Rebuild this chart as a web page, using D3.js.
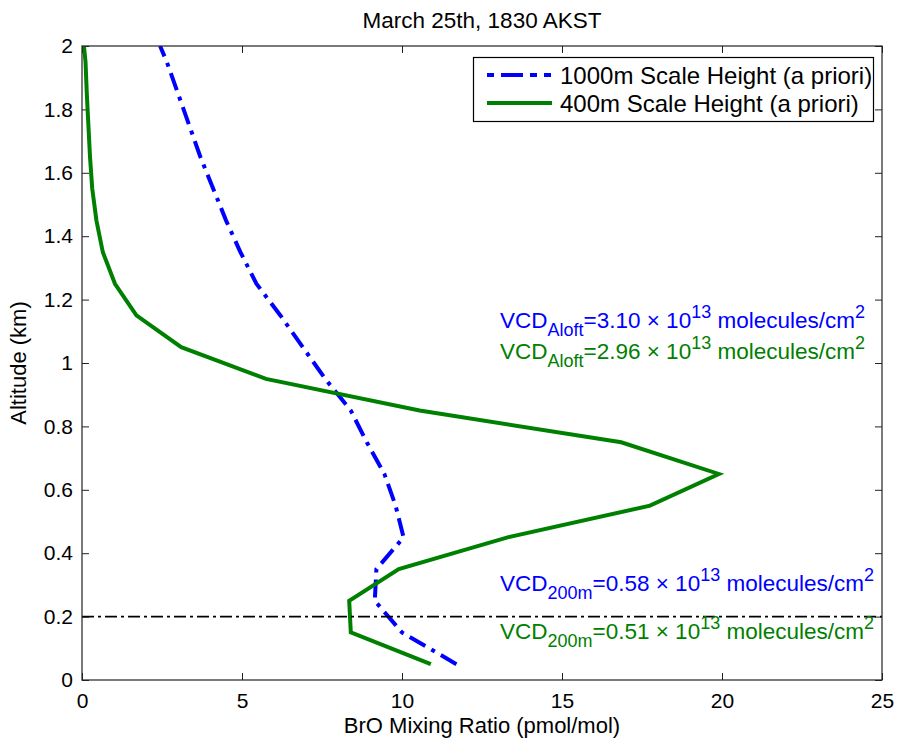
<!DOCTYPE html>
<html><head><meta charset="utf-8">
<script src="https://cdn.jsdelivr.net/npm/d3@7"></script>
<style>body{margin:0;background:#fff}svg{font-family:"Liberation Sans",Arial,sans-serif}</style>
</head><body><svg id="c" width="900" height="740"></svg>
<script>
const altitudes = [0.05,0.15,0.25,0.35,0.45,0.55,0.65,0.75,0.85,0.95,1.05,1.15,1.25,1.35,1.45,1.55,1.65,1.75,1.85,1.95,2.0];
const blue1000 = [11.7,10.0,9.15,9.2,10.05,9.8,9.45,8.9,8.4,7.6,6.9,6.2,5.45,4.95,4.5,4.1,3.7,3.35,3.0,2.65,2.44];
const green400 = [10.9,8.4,8.35,9.9,13.3,17.75,19.9,16.85,10.55,5.75,3.1,1.7,1.03,0.65,0.45,0.32,0.25,0.2,0.15,0.11,0.06];
const xTicks = [0,5,10,15,20,25];
const yTicks = [0,0.2,0.4,0.6,0.8,1,1.2,1.4,1.6,1.8,2];
const seriesNames = ["1000m Scale Height (a priori)","400m Scale Height (a priori)"];
const boundaryAlt = 0.2;

const svg = d3.select("#c");
const L=82,R=882,T=46,B=680;
const x = d3.scaleLinear().domain([0,25]).range([L,R]);
const y = d3.scaleLinear().domain([0,2]).range([B,T]);

svg.append("defs").append("clipPath").attr("id","clip").append("rect")
  .attr("x",L).attr("y",T).attr("width",R-L).attr("height",B-T);

const tl=7;
const styleText = g=>{g.select(".domain").remove();g.selectAll("text").attr("font-size",21).attr("fill","#000").attr("font-family","Liberation Sans, Arial");};
svg.append("g").attr("transform",`translate(0,${B})`)
  .call(d3.axisBottom(x).tickValues(xTicks).tickSize(-tl).tickPadding(tl+6).tickFormat(d3.format("")))
  .call(styleText);
svg.append("g").attr("transform",`translate(0,${T})`)
  .call(d3.axisTop(x).tickValues(xTicks).tickSize(-tl).tickFormat(""))
  .call(g=>g.select(".domain").remove());
svg.append("g").attr("transform",`translate(${L},0)`)
  .call(d3.axisLeft(y).tickValues(yTicks).tickSize(-tl).tickPadding(tl+2).tickFormat(d3.format("")))
  .call(styleText);
svg.append("g").attr("transform",`translate(${R},0)`)
  .call(d3.axisRight(y).tickValues(yTicks).tickSize(-tl).tickFormat(""))
  .call(g=>g.select(".domain").remove());
svg.selectAll(".tick line").attr("stroke","#222").attr("stroke-width",1);

const data = altitudes.map((a,i)=>({a,b:blue1000[i],g:green400[i]}));
const lb = d3.line().x(d=>x(d.b)).y(d=>y(d.a));
const lg = d3.line().x(d=>x(d.g)).y(d=>y(d.a));
const pg = svg.append("g").attr("clip-path","url(#clip)");
pg.append("path").datum(data).attr("d",lb).attr("fill","none").attr("stroke","#0000ff")
  .attr("stroke-width",4).attr("stroke-dasharray","18,7,4,7");
pg.append("path").datum(data).attr("d",lg).attr("fill","none").attr("stroke","#008000")
  .attr("stroke-width",4);
pg.append("line").attr("x1",L).attr("x2",R).attr("y1",y(boundaryAlt)).attr("y2",y(boundaryAlt))
  .attr("stroke","#000").attr("stroke-width",1.6).attr("stroke-dasharray","12,4,3,4");

svg.append("rect").attr("x",L).attr("y",T).attr("width",R-L).attr("height",B-T)
  .attr("fill","none").attr("stroke","#222").attr("stroke-width",1.2);

svg.append("text").attr("x",(L+R)/2).attr("y",28).attr("text-anchor","middle").attr("font-size",22.5).text("March 25th, 1830 AKST");
svg.append("text").attr("x",(L+R)/2).attr("y",733).attr("text-anchor","middle").attr("font-size",22).text("BrO Mixing Ratio (pmol/mol)");
svg.append("text").attr("transform",`translate(26,${(T+B)/2}) rotate(-90)`).attr("text-anchor","middle").attr("font-size",22).text("Altitude (km)");

const lgd = svg.append("g");
lgd.append("rect").attr("x",473.5).attr("y",57.5).attr("width",400).attr("height",64).attr("fill","#fff").attr("stroke","#000").attr("stroke-width",1.2);
const legendItems=[{name:seriesNames[0],c:"#0000ff",dash:"7,7,22,7,7"},{name:seriesNames[1],c:"#008000",dash:null}];
legendItems.forEach((it,i)=>{
  const yy=75+i*28;
  const ln=lgd.append("line").attr("x1",487).attr("x2",552).attr("y1",yy).attr("y2",yy).attr("stroke",it.c).attr("stroke-width",4);
  if(it.dash) ln.attr("stroke-dasharray",it.dash);
  lgd.append("text").attr("x",560).attr("y",yy+9).attr("font-size",24).text(it.name);
});

function vcd(xp,yp,color,sub,val){
  const t=svg.append("text").attr("x",xp).attr("y",yp).attr("fill",color).attr("font-size",22.5);
  t.append("tspan").text("VCD");
  t.append("tspan").attr("dy",8).attr("font-size",18).text(sub);
  t.append("tspan").attr("dy",-8).text("="+val+" \u00d7 10");
  t.append("tspan").attr("dy",-10).attr("font-size",18).text("13");
  t.append("tspan").attr("dy",10).text(" molecules/cm");
  t.append("tspan").attr("dy",-10).attr("font-size",18).text("2");
}
vcd(500,328,"#0000ff","Aloft","3.10");
vcd(500,359,"#008000","Aloft","2.96");
vcd(500,591,"#0000ff","200m","0.58");
vcd(500,639,"#008000","200m","0.51");
</script></body></html>
